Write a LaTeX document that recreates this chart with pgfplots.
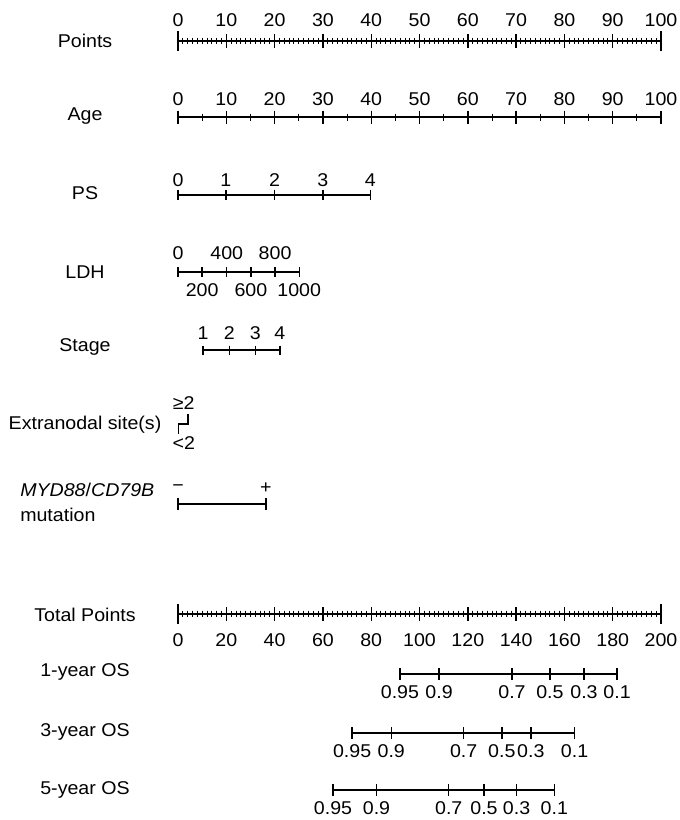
\documentclass[border=0pt]{standalone}
\usepackage{pgfplots}
\pgfplotsset{compat=1.18}
\usepackage{fontspec}
\setmainfont{Liberation Sans}[FakeStretch=1.06]
\begin{document}
\begin{tikzpicture}
\begin{axis}[
  scale only axis, width=680pt, height=820pt,
  xmin=-36.853, xmax=103.93, ymin=0, ymax=820, y dir=reverse,
  hide axis, clip=false,
  every axis plot/.append style={black},
  sl/.style={line width=1.5pt, mark=none},
  tk/.style={only marks, mark=|, mark size=#1, mark options={line width=1.4pt}},
  tm/.style={only marks, mark=|, mark size=#1, mark options={line width=0.9pt}},
  lab/.style={only marks, mark size=0pt, nodes near coords, point meta=explicit symbolic,
    every node near coord/.style={anchor=center, inner sep=0pt, font=\fontsize{18.5}{22}\selectfont}},
  labw/.style={only marks, mark size=0pt, nodes near coords, point meta=explicit symbolic,
    every node near coord/.style={anchor=west, inner sep=0pt, font=\fontsize{18.5}{22}\selectfont}},
]
% ---------- row names ----------
\addplot[lab] coordinates {(-19.25,41)[Points] (-19.25,116)[Age] (-19.25,193)[PS] (-19.25,272)[LDH]
  (-19.25,347)[Stage] (-19.25,425)[Extranodal site(s)]
  (-19.25,615)[Total Points] (-19.25,672)[1-year OS] (-19.25,732)[3-year OS] (-19.25,790)[5-year OS]};
\addplot[labw] coordinates {(-32.7,490)[\textit{MYD88}/\textit{CD79B}] (-32.7,515)[mutation]};

% ---------- Points ----------
\addplot[sl] coordinates {(0,41) (100,41)};
\addplot[tm=3.3] table[y expr=41] {x
0
1
2
3
4
5
6
7
8
9
10
11
12
13
14
15
16
17
18
19
20
21
22
23
24
25
26
27
28
29
30
31
32
33
34
35
36
37
38
39
40
41
42
43
44
45
46
47
48
49
50
51
52
53
54
55
56
57
58
59
60
61
62
63
64
65
66
67
68
69
70
71
72
73
74
75
76
77
78
79
80
81
82
83
84
85
86
87
88
89
90
91
92
93
94
95
96
97
98
99
100
};
\addplot[tk=7] coordinates {(10,41)(20,41)(30,41)(40,41)(50,41)(60,41)(70,41)(80,41)(90,41)};
\addplot[tk=10] coordinates {(0,41)(100,41)};
\addplot[lab] coordinates {(0,20)[0] (10,20)[10] (20,20)[20] (30,20)[30] (40,20)[40] (50,20)[50]
  (60,20)[60] (70,20)[70] (80,20)[80] (90,20)[90] (100,20)[100]};

% ---------- Age ----------
\addplot[sl] coordinates {(0,117) (100,117)};
\addplot[tk=6.5] coordinates {(0,117)(10,117)(20,117)(30,117)(40,117)(50,117)(60,117)(70,117)(80,117)(90,117)(100,117)};
\addplot[tm=3.5] coordinates {(5,117)(15,117)(25,117)(35,117)(45,117)(55,117)(65,117)(75,117)(85,117)(95,117)};
\addplot[lab] coordinates {(0,99)[0] (10,99)[10] (20,99)[20] (30,99)[30] (40,99)[40] (50,99)[50]
  (60,99)[60] (70,99)[70] (80,99)[80] (90,99)[90] (100,99)[100]};

% ---------- PS ----------
\addplot[sl] coordinates {(0,195) (39.8,195)};
\addplot[tk=5.3] coordinates {(0,195)(9.9,195)(20,195)(30,195)(39.8,195)};
\addplot[lab] coordinates {(0,180)[0] (9.9,180)[1] (20,180)[2] (30,180)[3] (39.8,180)[4]};

% ---------- LDH ----------
\addplot[sl] coordinates {(0,272) (25.1,272)};
\addplot[tk=5] coordinates {(0,272)(5.0,272)(10.1,272)(15.1,272)(20.1,272)(25.1,272)};
\addplot[lab] coordinates {(0,253)[0] (10.1,253)[400] (20.1,253)[800]
  (5.0,290)[200] (15.1,290)[600] (25.1,290)[1000]};

% ---------- Stage ----------
\addplot[sl] coordinates {(5.2,350) (21.1,350)};
\addplot[tk=4.5] coordinates {(5.2,350)(10.6,350)(16.0,350)(21.1,350)};
\addplot[lab] coordinates {(5.2,333)[1] (10.6,333)[2] (16.0,333)[3] (21.1,333)[4]};

% ---------- Extranodal ----------
\addplot[sl] coordinates {(2.1,414) (2.1,424) (0.1,424) (0.1,434)};
\addplot[lab] coordinates {(1.2,403)[≥2] (1.2,443)[<2]};

% ---------- MYD88/CD79B ----------
\addplot[sl] coordinates {(0,504) (18.2,504)};
\addplot[tk=6] coordinates {(0,504)(18.2,504)};
\addplot[lab] coordinates {(0,488)[−] (18.2,488)[+]};

% ---------- Total Points (x = total/2) ----------
\addplot[sl] coordinates {(0,614) (100,614)};
\addplot[tm=3.3] table[y expr=614] {x
0
1
2
3
4
5
6
7
8
9
10
11
12
13
14
15
16
17
18
19
20
21
22
23
24
25
26
27
28
29
30
31
32
33
34
35
36
37
38
39
40
41
42
43
44
45
46
47
48
49
50
51
52
53
54
55
56
57
58
59
60
61
62
63
64
65
66
67
68
69
70
71
72
73
74
75
76
77
78
79
80
81
82
83
84
85
86
87
88
89
90
91
92
93
94
95
96
97
98
99
100
};
\addplot[tk=7] coordinates {(10,614)(20,614)(30,614)(40,614)(50,614)(60,614)(70,614)(80,614)(90,614)};
\addplot[tk=10] coordinates {(0,614)(100,614)};
\addplot[lab] coordinates {(0,640)[0] (10,640)[20] (20,640)[40] (30,640)[60] (40,640)[80] (50,640)[100]
  (60,640)[120] (70,640)[140] (80,640)[160] (90,640)[180] (100,640)[200]};

% ---------- 1-year OS ----------
\addplot[sl] coordinates {(45.95,674) (90.9,674)};
\addplot[tk=6] coordinates {(45.95,674)(54.05,674)(69.15,674)(77.0,674)(84.05,674)(90.9,674)};
\addplot[lab] coordinates {(45.95,692)[0.95] (54.05,692)[0.9] (69.15,692)[0.7] (77.0,692)[0.5] (84.05,692)[0.3] (90.9,692)[0.1]};

% ---------- 3-year OS ----------
\addplot[sl] coordinates {(36.05,733) (82.1,733)};
\addplot[tk=6] coordinates {(36.05,733)(44.15,733)(59.15,733)(67.05,733)(73.05,733)(82.1,733)};
\addplot[lab] coordinates {(36.05,751)[0.95] (44.15,751)[0.9] (59.15,751)[0.7] (67.05,751)[0.5] (73.05,751)[0.3] (82.1,751)[0.1]};

% ---------- 5-year OS ----------
\addplot[sl] coordinates {(32.1,790) (77.9,790)};
\addplot[tk=6] coordinates {(32.1,790)(41.1,790)(56.05,790)(63.35,790)(70.1,790)(77.9,790)};
\addplot[lab] coordinates {(32.1,808)[0.95] (41.1,808)[0.9] (56.05,808)[0.7] (63.35,808)[0.5] (70.1,808)[0.3] (77.9,808)[0.1]};
\end{axis}
\pgfresetboundingbox
\path (current axis.south west) rectangle (current axis.north east);
\end{tikzpicture}
\end{document}
